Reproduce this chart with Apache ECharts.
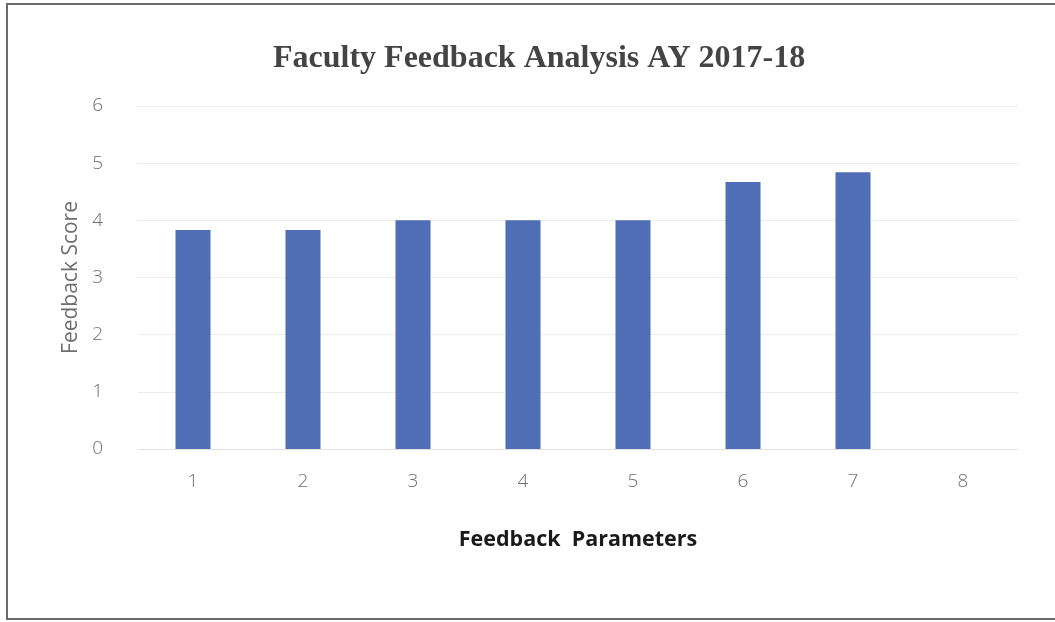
<!DOCTYPE html>
<html>
<head>
<meta charset="utf-8">
<style>
  html, body { margin: 0; padding: 0; background: #ffffff; }
  #chart { width: 1055px; height: 622px; }
</style>
<script src="https://cdn.jsdelivr.net/npm/echarts@6/dist/echarts.min.js"></script>
</head>
<body>
<div id="chart"></div>
<script>
// Feedback parameters (x axis) and their average scores
const parameters = ['1', '2', '3', '4', '5', '6', '7', '8'];
const scores = [3.83, 3.83, 4.0, 4.0, 4.0, 4.67, 4.84, null];
const scoreTicks = [0, 1, 2, 3, 4, 5, 6];

const chart = echarts.init(document.getElementById('chart'));

chart.setOption({
  backgroundColor: '#ffffff',
  animation: false,
  title: {
    text: 'Faculty Feedback Analysis AY 2017-18',
    left: 268,
    top: 38,
    textStyle: {
      fontFamily: '"Liberation Serif", "Times New Roman", serif',
      fontSize: 32,
      fontWeight: 'bold',
      color: '#444444'
    }
  },
  graphic: [{
    type: 'rect',
    shape: { x: 7, y: 4, width: 1060, height: 615 },
    style: { fill: 'none', stroke: '#6a6a6a', lineWidth: 2 },
    silent: true
  }],
  grid: { left: 138, right: 37, top: 106, bottom: 173 },
  xAxis: {
    type: 'category',
    data: parameters,
    name: 'Feedback  Parameters',
    nameLocation: 'middle',
    nameGap: 80,
    nameTextStyle: {
      fontFamily: '"Open Sans", sans-serif',
      fontSize: 21.5,
      fontWeight: 'bold',
      color: '#1a1a1a'
    },
    axisLine: { show: true, lineStyle: { color: '#e2e2e2', width: 1 } },
    axisTick: { show: false },
    axisLabel: {
      margin: 23,
      fontFamily: '"Open Sans", sans-serif',
      fontSize: 19,
      fontWeight: 300,
      color: '#6f6f6f'
    }
  },
  yAxis: {
    type: 'value',
    min: scoreTicks[0],
    max: scoreTicks[scoreTicks.length - 1],
    interval: 1,
    name: 'Feedback Score',
    nameLocation: 'middle',
    nameGap: 49,
    nameTextStyle: {
      fontFamily: '"Open Sans", sans-serif',
      fontSize: 21,
      color: '#6f6f6f'
    },
    axisLine: { show: false },
    axisTick: { show: false },
    axisLabel: {
      margin: 35,
      fontFamily: '"Open Sans", sans-serif',
      fontSize: 19,
      fontWeight: 300,
      color: '#6f6f6f'
    },
    splitLine: { lineStyle: { color: '#ececec', width: 1 } }
  },
  series: [{
    type: 'bar',
    data: scores,
    barWidth: 35,
    itemStyle: { color: '#4f6eb6' }
  }]
});
</script>
</body>
</html>
